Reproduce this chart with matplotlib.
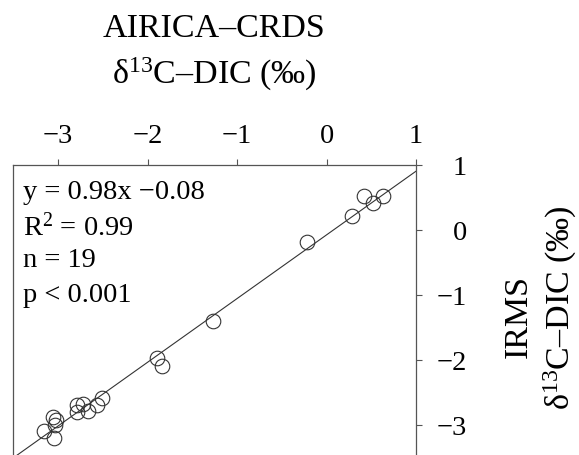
import numpy as np
import matplotlib
matplotlib.use('Agg')
import matplotlib.pyplot as plt

plt.rcParams['font.family'] = ['Liberation Serif', 'DejaVu Serif']
plt.rcParams['mathtext.fontset'] = 'custom'
plt.rcParams['mathtext.rm'] = 'Liberation Serif'
plt.rcParams['mathtext.it'] = 'Liberation Serif:italic'

# AIRICA-CRDS vs IRMS d13C-DIC (per mil)
airica = [0.415, 0.632, 0.516, 0.285, -0.218, -1.270, -1.889, -1.837,
          -2.504, -2.564, -2.661, -2.717, -2.793, -2.793,
          -3.053, -3.028, -3.039, -3.157, -3.045]
irms = [0.523, 0.514, 0.411, 0.206, -0.194, -1.40, -1.978, -2.10,
        -2.594, -2.702, -2.794, -2.689, -2.697, -2.80,
        -2.874, -2.935, -3.005, -3.097, -3.209]

slope = 0.98
intercept = -0.08
x_ticks = [-3, -2, -1, 0, 1]
y_ticks = [-3, -2, -1, 0, 1]
stats_lines = ['y = 0.98x \u22120.08', 'R$^{2}$ = 0.99', 'n = 19', 'p < 0.001']

W, H = 579, 456
fig = plt.figure(figsize=(W / 100, H / 100), dpi=100)
ax = fig.add_axes([13.3 / W, (H - 458.2) / H, 402.7 / W, 292.5 / H])

line_col = '#333333'
spine_col = '#555555'

xlim = (-3.5, 1)
ax.set_xlim(xlim)
ax.set_ylim(-3.5, 1)

xs = np.array(xlim)
ax.plot(xs, slope * xs + intercept, color=line_col, lw=0.8)
ax.plot(airica, irms, 'o', ms=10.5, mfc='none', mec=line_col, mew=0.8)

for s in ax.spines.values():
    s.set_color(spine_col)
    s.set_linewidth(0.9)

ax.set_xticks(x_ticks)
ax.set_yticks(y_ticks)
ax.tick_params(axis='x', bottom=False, labelbottom=False, top=True, labeltop=True,
               direction='out', length=4, width=0.8, color=spine_col,
               labelsize=20.5, pad=8.0)
ax.tick_params(axis='y', left=False, labelleft=False, right=True, labelright=True,
               direction='out', length=4, width=0.8, color=spine_col,
               labelsize=20.5, pad=32.8)
for t in ax.yaxis.get_major_ticks():
    t.label2.set_horizontalalignment('right')

# regression stats, top left
ypos = [199.3, 236.0, 267.0, 301.7]
for txt, py in zip(stats_lines, ypos):
    ax.text((22.7 - 13.3) / 402.7, (458.2 - py) / 292.5, txt, transform=ax.transAxes,
            fontsize=20.5, ha='left', va='baseline')

# axis titles
fig.text(214 / W, 1 - 37 / H, 'AIRICA\u2013CRDS', fontsize=24.5, ha='center', va='baseline')
fig.text(214 / W, 1 - 84 / H, '\u03b4$^{13}$C\u2013DIC (\u2030)', fontsize=24.5,
         ha='center', va='baseline')
fig.text(527 / W, 1 - 316 / H, 'IRMS', fontsize=24.5, ha='center', va='baseline',
         rotation=90, rotation_mode='anchor')
fig.text(570 / W, 1 - 308 / H, '\u03b4$^{13}$C\u2013DIC (\u2030)', fontsize=24.5,
         ha='center', va='baseline', rotation=90, rotation_mode='anchor')

fig.savefig('out.png', dpi=100)
